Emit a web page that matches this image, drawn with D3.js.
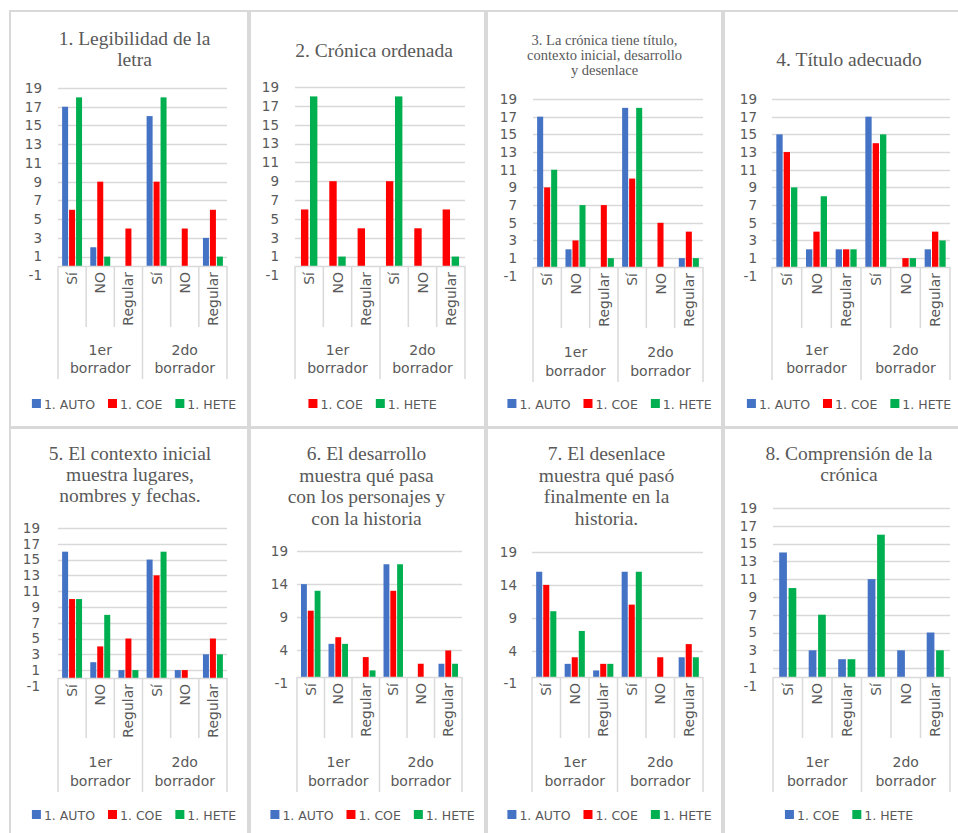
<!DOCTYPE html>
<html>
<head>
<meta charset="utf-8">
<script src="https://cdn.jsdelivr.net/npm/d3@7"></script>
<style>
  html, body { margin: 0; padding: 0; background: #fff; }
  svg { display: block; }
</style>
</head>
<body>
<script>
// Category levels of every panel
const groups = ["1er borrador", "2do borrador"];
const groupLines = [["1er", "borrador"], ["2do", "borrador"]];
const answers = ["Sí", "NO", "Regular"];

// Series labels
const AUTO = "1. AUTO", COE = "1. COE", HETE = "1. HETE";

// Y tick labels
const ticksByTwo = [-1, 1, 3, 5, 7, 9, 11, 13, 15, 17, 19];
const ticksByFive = [-1, 4, 9, 14, 19];

// Values, ordered: 1er Sí, 1er NO, 1er Regular, 2do Sí, 2do NO, 2do Regular
const legibilidadAuto = [17, 2, 0, 16, 0, 3];
const legibilidadCoe  = [6, 9, 4, 9, 4, 6];
const legibilidadHete = [18, 1, 0, 18, 0, 1];

const ordenadaCoe  = [6, 9, 4, 9, 4, 6];
const ordenadaHete = [18, 1, 0, 18, 0, 1];

const estructuraAuto = [17, 2, 0, 18, 0, 1];
const estructuraCoe  = [9, 3, 7, 10, 5, 4];
const estructuraHete = [11, 7, 1, 18, 0, 1];

const tituloAuto = [15, 2, 2, 17, 0, 2];
const tituloCoe  = [13, 4, 2, 14, 1, 4];
const tituloHete = [9, 8, 2, 15, 1, 3];

const contextoAuto = [16, 2, 1, 15, 1, 3];
const contextoCoe  = [10, 4, 5, 13, 1, 5];
const contextoHete = [10, 8, 1, 16, 0, 3];

const desarrolloAuto = [14, 5, 0, 17, 0, 2];
const desarrolloCoe  = [10, 6, 3, 13, 2, 4];
const desarrolloHete = [13, 5, 1, 17, 0, 2];

const desenlaceAuto = [16, 2, 1, 16, 0, 3];
const desenlaceCoe  = [14, 3, 2, 11, 3, 5];
const desenlaceHete = [10, 7, 2, 16, 0, 3];

const comprensionCoe  = [14, 3, 2, 11, 3, 5];
const comprensionHete = [10, 7, 2, 16, 0, 3];

const BLUE = "#4472C4", RED = "#FF0000", GREEN = "#00B050";
const TEXT = "#595959", GRID = "#d9d9d9";
const SERIF = "'Liberation Serif', 'Times New Roman', serif";
const SANS = "'DejaVu Sans', Verdana, sans-serif";

// Panel layout (pixel geometry of each small chart)
const panels = [
  { cell: [10, 11, 238, 416], title: ["1. Legibilidad de la", "letra"], titleSize: 19.5, titleX: 134.5, titleY: 45, titleLH: 21,
    left: 58, right: 227, y19: 88, y0: 266, ticks: ticksByTwo, labelRight: 42,
    subBottom: 327, groupY: [355, 373], groupBottom: 379, legendY: 404,
    series: [[AUTO, BLUE, legibilidadAuto], [COE, RED, legibilidadCoe], [HETE, GREEN, legibilidadHete]] },
  { cell: [250, 11, 235, 416], title: ["2. Crónica ordenada"], titleSize: 19.5, titleX: 374, titleY: 57, titleLH: 21,
    left: 295, right: 465, y19: 87, y0: 266, ticks: ticksByTwo, labelRight: 279,
    subBottom: 327, groupY: [355, 373], groupBottom: 379, legendY: 404,
    series: [[COE, RED, ordenadaCoe], [HETE, GREEN, ordenadaHete]] },
  { cell: [487, 11, 235, 416], title: ["3. La crónica tiene título,", "contexto inicial, desarrollo", "y desenlace"], titleSize: 14.5, titleX: 604.5, titleY: 45, titleLH: 15,
    left: 533, right: 703, y19: 99, y0: 267, ticks: ticksByTwo, labelRight: 517,
    subBottom: 328, groupY: [357, 376], groupBottom: 382, legendY: 404,
    series: [[AUTO, BLUE, estructuraAuto], [COE, RED, estructuraCoe], [HETE, GREEN, estructuraHete]] },
  { cell: [724, 11, 240, 416], title: ["4. Título adecuado"], titleSize: 19.5, titleX: 849, titleY: 66, titleLH: 21,
    left: 772, right: 950, y19: 99, y0: 267, ticks: ticksByTwo, labelRight: 757,
    subBottom: 328, groupY: [355, 373], groupBottom: 380, legendY: 404,
    series: [[AUTO, BLUE, tituloAuto], [COE, RED, tituloCoe], [HETE, GREEN, tituloHete]] },
  { cell: [10, 428, 238, 410], title: ["5. El contexto inicial", "muestra lugares,", "nombres y fechas."], titleSize: 19.5, titleX: 130, titleY: 460, titleLH: 21,
    left: 58, right: 227, y19: 528, y0: 678, ticks: ticksByTwo, labelRight: 40,
    subBottom: 738, groupY: [767, 786], groupBottom: 792, legendY: 815,
    series: [[AUTO, BLUE, contextoAuto], [COE, RED, contextoCoe], [HETE, GREEN, contextoHete]] },
  { cell: [250, 428, 235, 410], title: ["6. El desarrollo", "muestra qué pasa", "con los personajes y", "con la historia"], titleSize: 19.5, titleX: 366.5, titleY: 460, titleLH: 21.7,
    left: 297, right: 462, y19: 551, y0: 677, ticks: ticksByFive, labelRight: 288,
    subBottom: 738, groupY: [767, 786], groupBottom: 792, legendY: 815,
    series: [[AUTO, BLUE, desarrolloAuto], [COE, RED, desarrolloCoe], [HETE, GREEN, desarrolloHete]] },
  { cell: [487, 428, 235, 410], title: ["7. El desenlace", "muestra qué pasó", "finalmente en la", "historia."], titleSize: 19.5, titleX: 606.5, titleY: 460, titleLH: 21.7,
    left: 532, right: 703, y19: 552, y0: 677, ticks: ticksByFive, labelRight: 517,
    subBottom: 738, groupY: [767, 786], groupBottom: 792, legendY: 815,
    series: [[AUTO, BLUE, desenlaceAuto], [COE, RED, desenlaceCoe], [HETE, GREEN, desenlaceHete]] },
  { cell: [724, 428, 240, 410], title: ["8. Comprensión de la", "crónica"], titleSize: 19.5, titleX: 849, titleY: 460, titleLH: 21,
    left: 773, right: 950, y19: 508, y0: 677, ticks: ticksByTwo, labelRight: 757,
    subBottom: 738, groupY: [767, 786], groupBottom: 792, legendY: 815,
    series: [[COE, BLUE, comprensionCoe], [HETE, GREEN, comprensionHete]] }
];

const svg = d3.select("body").append("svg")
  .attr("width", 958).attr("height", 833);
svg.append("rect").attr("width", 958).attr("height", 833).attr("fill", "#fff");

panels.forEach(p => {
  const g = svg.append("g");
  const [cx, cy, cw, ch] = p.cell;

  // Chart frame
  g.append("rect").attr("x", cx).attr("y", cy).attr("width", cw).attr("height", ch)
    .attr("fill", "#fff").attr("stroke", GRID).attr("stroke-width", 2);

  // Title
  const title = g.append("text").attr("text-anchor", "middle")
    .attr("font-family", SERIF).attr("font-size", p.titleSize).attr("fill", TEXT);
  p.title.forEach((line, i) => {
    title.append("tspan").attr("x", p.titleX).attr("y", p.titleY + i * p.titleLH).text(line);
  });

  const y = d3.scaleLinear().domain([0, 19]).range([p.y0, p.y19]);
  const cats = d3.range(groups.length * answers.length);
  const x = d3.scaleBand().domain(cats).range([p.left, p.right]);
  const bw = x.bandwidth();
  const n = p.series.length;
  const stepFrac = n === 3 ? 0.236 : 0.29;
  const span = n * stepFrac * bw;
  const inner = d3.scaleBand().domain(p.series.map(s => s[0]))
    .range([(bw - span) / 2, (bw + span) / 2]).paddingInner(n === 3 ? 0.14 : 0.18);

  // Horizontal gridlines
  g.append("g").selectAll("line").data(p.ticks.filter(t => t > 0)).join("line")
    .attr("x1", p.left).attr("x2", p.right)
    .attr("y1", d => Math.round(y(d)) + 0.5).attr("y2", d => Math.round(y(d)) + 0.5)
    .attr("stroke", GRID).attr("stroke-width", 1.3);

  // Value axis labels
  const yAxis = g.append("g").attr("transform", `translate(${p.labelRight},0)`)
    .call(d3.axisLeft(y).tickValues(p.ticks).tickSize(0).tickPadding(0).tickFormat(d => String(d)));
  yAxis.select(".domain").remove();
  yAxis.selectAll("text").attr("font-family", SANS).attr("font-size", 13.5).attr("fill", TEXT);

  // Bars
  p.series.forEach(([name, color, values]) => {
    g.append("g").selectAll("rect").data(values).join("rect")
      .attr("x", (d, i) => x(i) + inner(name))
      .attr("width", inner.bandwidth())
      .attr("y", d => y(d))
      .attr("height", d => y(0) - y(d))
      .attr("fill", color);
  });

  // Category axis: baseline and dividers
  const axisG = g.append("g").attr("stroke", GRID).attr("stroke-width", 1.5);
  axisG.append("line").attr("x1", p.left).attr("x2", p.right)
    .attr("y1", Math.round(y(0)) + 0.5).attr("y2", Math.round(y(0)) + 0.5);
  const bounds = d3.range(cats.length + 1).map(i => i === cats.length ? p.right : x(i));
  axisG.selectAll("line.div").data(bounds).join("line").attr("class", "div")
    .attr("x1", d => d).attr("x2", d => d)
    .attr("y1", y(0))
    .attr("y2", (d, i) => (i % answers.length === 0) ? p.groupBottom : p.subBottom);

  // Answer labels, rotated
  g.append("g").selectAll("text").data(cats).join("text")
    .attr("transform", i => `translate(${x(i) + bw / 2 + 5},${y(0) + 6}) rotate(-90)`)
    .attr("text-anchor", "end")
    .attr("font-family", SANS).attr("font-size", 14).attr("fill", TEXT)
    .text(i => answers[i % answers.length]);

  // Draft labels
  groups.forEach((grp, gi) => {
    const gx = (x(gi * answers.length) + (gi === groups.length - 1 ? p.right : x((gi + 1) * answers.length))) / 2;
    groupLines[gi].forEach((line, li) => {
      g.append("text").attr("x", gx).attr("y", p.groupY[li]).attr("text-anchor", "middle")
        .attr("font-family", SANS).attr("font-size", 14).attr("fill", TEXT).text(line);
    });
  });

  // Legend
  const leg = g.append("g");
  let lx = 0;
  p.series.forEach(([name, color]) => {
    leg.append("rect").attr("x", lx).attr("y", p.legendY - 5).attr("width", 9).attr("height", 9).attr("fill", color);
    const t = leg.append("text").attr("x", lx + 12).attr("y", p.legendY + 4.5)
      .attr("font-family", SANS).attr("font-size", 12.5).attr("fill", TEXT).text(name);
    lx += 12 + t.node().getComputedTextLength() + 13;
  });
  const legW = lx - 13;
  leg.attr("transform", `translate(${cx + cw / 2 + 5 - legW / 2},0)`);
});
</script>
</body>
</html>
